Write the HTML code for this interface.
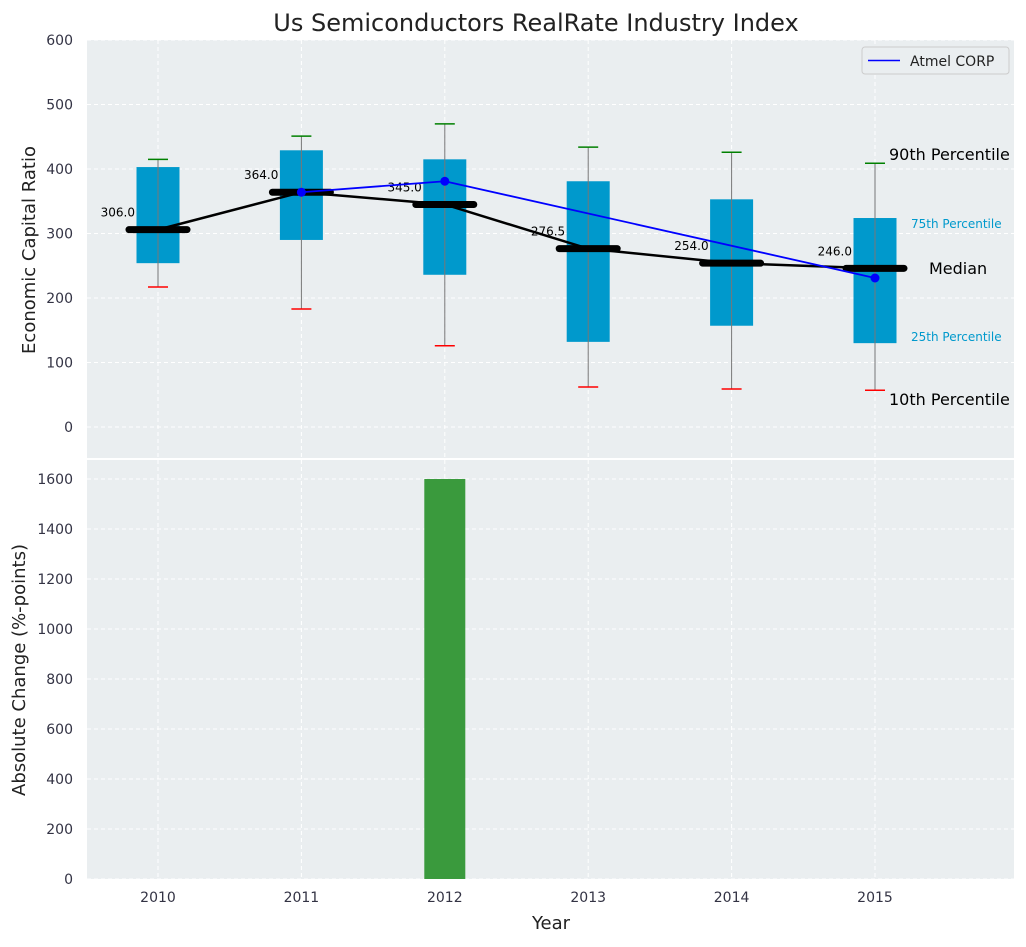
<!DOCTYPE html>
<html><head><meta charset="utf-8"><style>
body{margin:0;background:#fff;font-family:"Liberation Sans","DejaVu Sans",sans-serif}
svg text{font-family:"DejaVu Sans","Liberation Sans",sans-serif}
</style></head><body>
<svg id="chart" width="1026" height="942" xmlns="http://www.w3.org/2000/svg"></svg>
<script>
const years=[2010,2011,2012,2013,2014,2015];
const p10=[217,183,126,62,59,57];
const p25=[254,290,236,132,157,130];
const medians=[306.0,364.0,345.0,276.5,254.0,246.0];
const p75=[403,429,415,381,353,324];
const p90=[415,451,470,434,426,409];
const atmelYears=[2011,2012,2015];
const atmelValues=[364,381,231];
const changeYears=[2012];
const changeValues=[1600];
const topTicks=[0,100,200,300,400,500,600];
const botTicks=[0,200,400,600,800,1000,1200,1400,1600];

const svg=document.getElementById('chart');
const NS='http://www.w3.org/2000/svg';
function mk(tag,attrs,name,parent){const e=document.createElementNS(NS,tag);for(const k in attrs)e.setAttribute(k,attrs[k]);


(parent||svg).appendChild(e);return e;}
function txt(s,attrs,name){const e=mk('text',attrs,name);e.textContent=s;return e;}
const L=87,R=1014;
const x=i=>158+i*143.4;
const xy=yr=>x(yr-2010);
const T0=40,T1=458,yT=v=>427-v*0.645;
const B0=460,B1=879,yB=v=>879-v*0.25;

mk('rect',{x:L,y:T0,width:R-L,height:T1-T0,fill:'#eaeef0'},'top-plot-area');
mk('rect',{x:L,y:B0,width:R-L,height:B1-B0,fill:'#eaeef0'},'bottom-plot-area');
txt('Us Semiconductors RealRate Industry Index',{x:536,y:31,'font-size':24,'text-anchor':'middle',fill:'#222'},'chart-title');
topTicks.forEach(v=>{mk('line',{x1:L,x2:R,y1:yT(v),y2:yT(v),stroke:'#fff','stroke-dasharray':'4,3'},'top-grid-line');
txt(v,{x:73,y:yT(v)+5,'font-size':14,'text-anchor':'end',fill:'#334'},'top-y-tick');});
botTicks.forEach(v=>{mk('line',{x1:L,x2:R,y1:yB(v),y2:yB(v),stroke:'#fff','stroke-dasharray':'4,3'},'bottom-grid-line');
txt(v,{x:73,y:yB(v)+5,'font-size':14,'text-anchor':'end',fill:'#334'},'bottom-y-tick');});
years.forEach((yr,i)=>{[[T0,T1],[B0,B1]].forEach(r=>mk('line',{x1:x(i),x2:x(i),y1:r[0],y2:r[1],stroke:'#fff','stroke-dasharray':'4,3'},'x-grid-line'));
txt(yr,{x:x(i),y:902,'font-size':14,'text-anchor':'middle',fill:'#334'},'x-tick-label');});
txt('Economic Capital Ratio',{x:35,y:250,'font-size':18,'text-anchor':'middle',fill:'#222',transform:'rotate(-90 35 250)'},'top-y-axis-title');
txt('Absolute Change (%-points)',{x:25,y:670,'font-size':18,'text-anchor':'middle',fill:'#222',transform:'rotate(-90 25 670)'},'bottom-y-axis-title');
txt('Year',{x:551,y:929,'font-size':18,'text-anchor':'middle',fill:'#222'},'x-axis-title');
years.forEach((yr,i)=>{const cx=x(i);
mk('rect',{x:cx-21.5,y:yT(p75[i]),width:43,height:yT(p25[i])-yT(p75[i]),fill:'#0099cc'},'box-'+yr);
mk('line',{x1:cx,x2:cx,y1:yT(p90[i]),y2:yT(p10[i]),stroke:'#777','stroke-width':1},'whisker-'+yr);
mk('line',{x1:cx-10,x2:cx+10,y1:yT(p90[i]),y2:yT(p90[i]),stroke:'green','stroke-width':1.5},'cap-90-'+yr);
mk('line',{x1:cx-10,x2:cx+10,y1:yT(p10[i]),y2:yT(p10[i]),stroke:'red','stroke-width':1.5},'cap-10-'+yr);
});
let pts=years.map((yr,i)=>x(i)+','+yT(medians[i])).join(' ');
mk('polyline',{points:pts,fill:'none',stroke:'#000','stroke-width':2.5},'median-line');
years.forEach((yr,i)=>{const cx=x(i);
mk('line',{x1:cx-29,x2:cx+29,y1:yT(medians[i]),y2:yT(medians[i]),stroke:'#000','stroke-width':7,'stroke-linecap':'round'},'median-marker-'+yr);
txt(medians[i].toFixed(1),{x:cx-23,y:yT(medians[i])-13,'font-size':12,'text-anchor':'end',fill:'#000'},'median-label-'+yr);});
mk('polyline',{points:atmelYears.map((yr,i)=>xy(yr)+','+yT(atmelValues[i])).join(' '),fill:'none',stroke:'blue','stroke-width':1.8},'atmel-line');
atmelYears.forEach((yr,i)=>mk('circle',{cx:xy(yr),cy:yT(atmelValues[i]),r:4.5,fill:'blue'},'atmel-point'));
txt('90th Percentile',{x:889,y:160,'font-size':16,fill:'#000'},'label-90th');
txt('75th Percentile',{x:911,y:228,'font-size':12,fill:'#0099cc'},'label-75th');
txt('Median',{x:929,y:274,'font-size':16,fill:'#000'},'label-median');
txt('25th Percentile',{x:911,y:341,'font-size':12,fill:'#0099cc'},'label-25th');
txt('10th Percentile',{x:889,y:405,'font-size':16,fill:'#000'},'label-10th');
mk('rect',{x:862,y:47,width:147,height:27,rx:3,fill:'#eaeef0',stroke:'#ccc'},'legend');
mk('line',{x1:868,x2:900,y1:60.5,y2:60.5,stroke:'blue','stroke-width':1.5},'legend-swatch');
txt('Atmel CORP',{x:910,y:66,'font-size':14,fill:'#222'},'legend-label');
changeYears.forEach((yr,i)=>mk('rect',{x:xy(yr)-20.5,y:yB(changeValues[i]),width:41,height:yB(0)-yB(changeValues[i]),fill:'#3a9a3d'},'change-bar-'+yr));
</script>
</body></html>
